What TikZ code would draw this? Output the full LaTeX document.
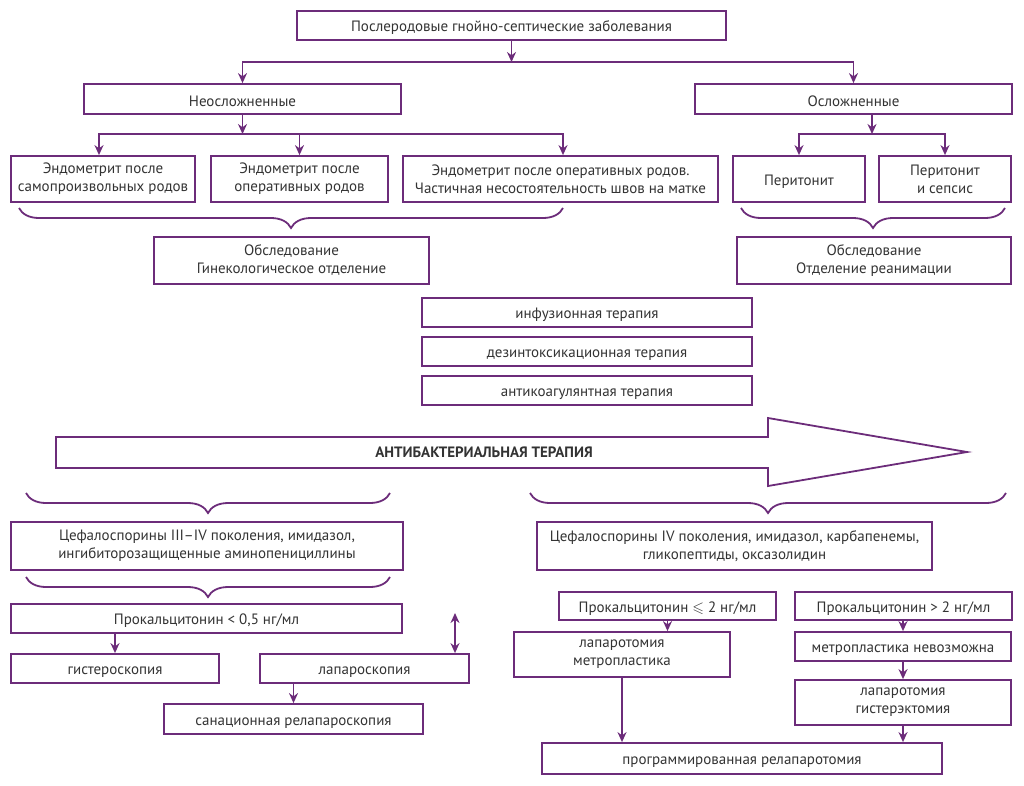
\documentclass[tikz,border=0pt]{standalone}
\usepackage{amssymb}
\usepackage{fontspec}
\setmainfont{PT Sans}
\usetikzlibrary{arrows.meta, decorations.pathreplacing}
\definecolor{lilac}{RGB}{108,44,122}
\definecolor{ink}{RGB}{51,51,51}

\begin{document}
\begin{tikzpicture}[x=1pt, y=-1pt,
    box/.style={draw=lilac, line width=1.8pt, text=ink, align=center, inner sep=0pt,
      font=\fontsize{15}{18}\selectfont, execute at begin node={\rule{0pt}{15pt}}},
    link/.style={draw=lilac, line width=1.8pt, ->, >={Stealth[length=10pt,width=9pt]}},
    curly/.style={draw=lilac, line width=1.8pt, decorate, decoration={brace, mirror, amplitude=20pt}}]
            \useasboundingbox (0,0) rectangle (1024,785);
            \node[box, minimum width=429pt, minimum height=29pt] (top) at (511.5,25.5) {Послеродовые гнойно-септические заболевания};
            \node[box, minimum width=317pt, minimum height=30pt] (mild) at (242.5,99) {Неосложненные};
            \node[box, minimum width=317pt, minimum height=30pt] (severe) at (853.5,99) {Осложненные};
            \node[box, minimum width=184pt, minimum height=46pt] (endoA) at (103,179) {Эндометрит после\\самопроизвольных родов};
            \node[box, minimum width=177pt, minimum height=46pt] (endoB) at (299.5,179) {Эндометрит после\\оперативных родов};
            \node[box, minimum width=315pt, minimum height=46pt] (endoC) at (560.5,179) {Эндометрит после оперативных родов.\\Частичная несостоятельность швов на матке};
            \node[box, minimum width=132pt, minimum height=46pt] (perA) at (799,179) {Перитонит};
            \node[box, minimum width=132pt, minimum height=46pt] (perB) at (945,179) {Перитонит\\и сепсис};
            \node[box, minimum width=275pt, minimum height=47pt] (examA) at (291.5,260.5) {Обследование\\Гинекологическое отделение};
            \node[box, minimum width=274pt, minimum height=47pt] (examB) at (874,260.5) {Обследование\\Отделение реанимации};
            \node[box, minimum width=330pt, minimum height=29pt] (infus) at (587,312.5) {инфузионная терапия};
            \node[box, minimum width=330pt, minimum height=29pt] (detox) at (587,351.5) {дезинтоксикационная терапия};
            \node[box, minimum width=330pt, minimum height=29pt] (anticoag) at (587,390.5) {антикоагулянтная терапия};
            \draw[lilac, line width=1.8pt] (56,437) -- (768,437) -- (768,418) -- (967,452) -- (768,486) -- (768,468) -- (56,468) -- cycle;
            \node[text=ink, font=\fontsize{15}{18}\selectfont\bfseries] (abt) at (484,452) {АНТИБАКТЕРИАЛЬНАЯ ТЕРАПИЯ};
            \node[box, minimum width=392pt, minimum height=48pt] (cefA) at (207,546) {Цефалоспорины III–IV поколения, имидазол,\\ингибиторозащищенные аминопенициллины};
            \node[box, minimum width=395pt, minimum height=48pt] (cefB) at (734.5,546) {Цефалоспорины IV поколения, имидазол, карбапенемы,\\гликопептиды, оксазолидин};
            \node[box, minimum width=391pt, minimum height=29pt] (pctA) at (206.5,618.5) {Прокальцитонин < 0,5 нг/мл};
            \node[box, minimum width=208pt, minimum height=29pt] (hyst) at (115,668.5) {гистероскопия};
            \node[box, minimum width=209pt, minimum height=29pt] (lapsc) at (364.5,668.5) {лапароскопия};
            \node[box, minimum width=259pt, minimum height=30pt] (relap) at (293.5,719) {санационная релапароскопия};
            \node[box, minimum width=217pt, minimum height=28pt] (pctB) at (667.5,606) {Прокальцитонин \(\leqslant\) 2 нг/мл};
            \node[box, minimum width=217pt, minimum height=28pt] (pctC) at (903.5,606) {Прокальцитонин > 2 нг/мл};
            \node[box, minimum width=216pt, minimum height=45pt] (lapmet) at (622,654.5) {лапаротомия\\метропластика};
            \node[box, minimum width=216pt, minimum height=29pt] (nomet) at (903,646.5) {метропластика невозможна};
            \node[box, minimum width=216pt, minimum height=45pt] (laphys) at (903,702.5) {лапаротомия\\гистерэктомия};
            \node[box, minimum width=400pt, minimum height=31pt] (prog) at (742,758.5) {программированная релапаротомия};
            \coordinate (s0) at (511.5,62);
            \coordinate (s1) at (242.5,134);
            \coordinate (s2) at (872,134);
            \coordinate (up) at (455,613);
            \draw[link] (top.south) -- (s0);
            \draw[link] (s0) -| (mild.north);
            \draw[link] (s0) -| (severe.north);
            \draw[link] (mild.south) -- (s1);
            \draw[link] (s1) -| ([xshift=-4pt]endoA.north);
            \draw[link] (s1) -| (endoB.north);
            \draw[link] (s1) -| ([xshift=2.5pt]endoC.north);
            \draw[link] (severe.south -| s2) -- (s2);
            \draw[link] (s2) -| (perA.north);
            \draw[link] (s2) -| (perB.north);
            \draw[curly] (19,208) -- (563,208);
            \draw[curly] (741,208) -- (1005,208);
            \draw[curly] (26,493) -- (390,493);
            \draw[curly] (530,493) -- (1006,493);
            \draw[curly] (26,577) -- (390,577);
            \draw[link] (pctA.south -| hyst.north) -- (hyst.north);
            \draw[link, <->] (up) -- (up |- lapsc.north);
            \draw[link] (relap.north |- lapsc.south) -- (relap.north);
            \draw[link] (pctB.south) -- (pctB.south |- lapmet.north);
            \draw[link] (lapmet.south) -- (lapmet.south |- prog.north);
            \draw[link] (pctC.south -| nomet.north) -- (nomet.north);
            \draw[link] (nomet) -- (laphys);
            \draw[link] (laphys.south) -- (laphys.south |- prog.north);
\end{tikzpicture}
\end{document}
